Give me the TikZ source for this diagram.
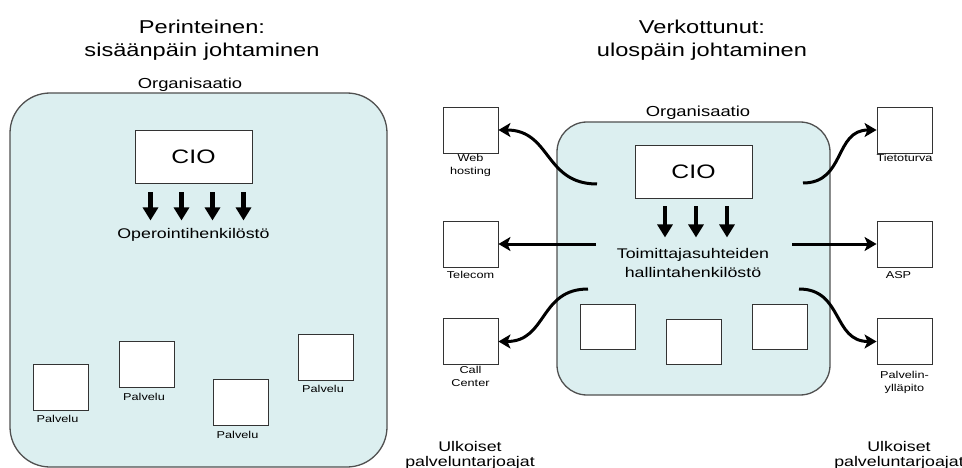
\documentclass[tikz,border=0pt]{standalone}
\usepackage{fontspec}
\setmainfont{Liberation Sans}[FakeStretch=1.27]
\usetikzlibrary{arrows.meta,positioning,calc}
\definecolor{OrgFill}{HTML}{DCEFF0}
\definecolor{OrgLine}{HTML}{505050}

\begin{document}
\begin{tikzpicture}[
  x=1pt, y=-1pt,
  org/.style={fill=OrgFill,draw=OrgLine,line width=1.3pt},
  unit/.style={rectangle,draw=black!80,fill=white,line width=0.9pt,minimum width=55pt,minimum height=46pt,inner sep=0pt},
  cio/.style={rectangle,draw=black!80,fill=white,line width=0.9pt,minimum width=117pt,minimum height=53pt,font=\fontsize{19.5}{22}\selectfont},
  heading/.style={anchor=north,align=center,inner sep=0pt,font=\fontsize{18.6}{23}\selectfont},
  orgname/.style={anchor=base,inner sep=0pt,font=\fontsize{14.5}{17}\selectfont},
  staff/.style={anchor=north,align=center,inner sep=0pt,font=\fontsize{14}{19}\selectfont},
  small/.style={align=center,inner sep=0pt,font=\fontsize{10}{13}\selectfont},
  outside/.style={anchor=north,align=center,inner sep=0pt,font=\fontsize{14}{15}\selectfont},
  order/.style={-{Triangle[length=13pt,width=15pt]},line width=4.2pt},
  link/.style={-{Stealth[length=12pt,width=14pt,inset=3pt]},line width=3pt}
]
  \useasboundingbox (0,0) rectangle (962,468);

  % perinteinen
  \node[heading] (title1) at (202,20) {Perinteinen:\\sisäänpäin johtaminen};
  \node[orgname] (org1) at (190,89) {Organisaatio};
  \draw[org,rounded corners=40pt] (10,93) rectangle (387,467);
  \node[cio] (cio1) at (193.5,156.5) {CIO};
  \foreach \dx in {-43,-12,19,50}
    \draw[order] ($(cio1.south)+(\dx,9)$) -- ($(cio1.south)+(\dx,37)$);
  \node[staff,anchor=base] (staff1) at (193.5,239) {Operointihenkilöstö};

  \node[unit] (p1) at (60.5,387) {};
  \node[unit] (p2) at (147,364.5) {};
  \node[unit] (p3) at (240.5,402.5) {};
  \node[unit] (p4) at (326,357) {};
  \foreach \p in {p1,p2,p3,p4}
    \node[small,below=5pt of \p,xshift=-3pt] {Palvelu};

  % verkottunut
  \node[heading] (title2) at (702,20) {Verkottunut:\\ulospäin johtaminen};
  \node[orgname] (org2) at (698,117) {Organisaatio};
  \draw[org,rounded corners=30pt] (557,122) rectangle (830,395);
  \node[cio] (cio2) at (693.5,171.5) {CIO};
  \foreach \dx in {-28.5,2.5,33.5}
    \draw[order] ($(cio2.south)+(\dx,8)$) -- ($(cio2.south)+(\dx,39)$);
  \node[staff] (staff2) at (693,248.5) {Toimittajasuhteiden\\hallintahenkilöstö};
  \node[unit,minimum height=45pt] (i1) at (608,326.5) {};
  \node[unit,minimum height=45pt] (i2) at (694,342) {};
  \node[unit,minimum height=45pt] (i3) at (779.5,326.5) {};

  \node[unit] (web) at (470.5,130) {};
  \node[unit] (tel) at (470.5,244) {};
  \node[unit] (call) at (470.5,341.5) {};
  \node[unit] (sec) at (904.5,130) {};
  \node[unit] (asp) at (904.5,244) {};
  \node[unit] (host) at (904.5,341.5) {};

  \node[small,below=1pt of web] {Web\\hosting};
  \node[small,below=4pt of tel] {Telecom};
  \node[small,below=1.5pt of call] {Call\\Center};
  \node[small,below=1pt of sec] {Tietoturva};
  \node[small,below=3.5pt of asp,xshift=-6pt] {ASP};
  \node[small,below=6pt of host] {Palvelin-\\ylläpito};

  \coordinate (webs) at (597,184);
  \coordinate (tels) at (596,244);
  \coordinate (calls) at (588,289);
  \coordinate (secs) at (803,183);
  \coordinate (asps) at (792,244);
  \coordinate (hosts) at (799,289);

  \draw[link] (webs) to[out=180,in=0,looseness=1.2] (web.east);
  \draw[link] (tels) -- (tel.east);
  \draw[link] (calls) to[out=180,in=0,looseness=1.2] (call.east);
  \draw[link] (secs) to[out=0,in=180,looseness=1.2] (sec.west);
  \draw[link] (asps) -- (asp.west);
  \draw[link] (hosts) to[out=0,in=180,looseness=1.2] (host.west);

  \node[outside] (ext1) at (470,441.5) {Ulkoiset\\palveluntarjoajat};
  \node[outside] (ext2) at (899,441.5) {Ulkoiset\\palveluntarjoajat};
\end{tikzpicture}
\end{document}
